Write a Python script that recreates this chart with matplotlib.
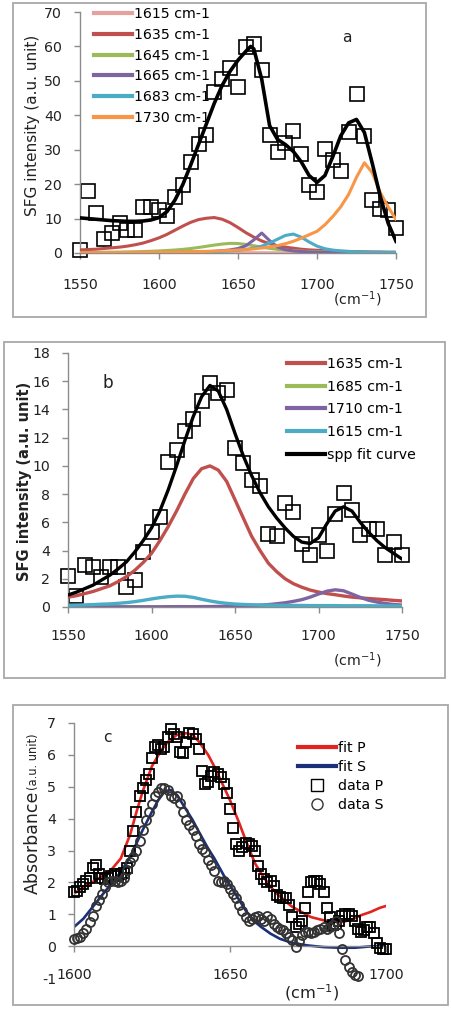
import matplotlib
matplotlib.use('Agg')
import matplotlib.pyplot as plt
from matplotlib.lines import Line2D
from matplotlib.patches import Rectangle

plt.rcParams['font.family'] = ['DejaVu Sans']
plt.rcParams['mathtext.fontset'] = 'dejavusans'
plt.rcParams['axes.unicode_minus'] = False

# ---------------- Panel a data ----------------
wn_a = list(range(1550, 1751, 5))
sfg_a = [0.8, 18.0, 11.6, 4.1, 5.9, 8.6, 6.8, 6.8, 13.3, 13.4,
         12.5, 10.7, 16.3, 19.8, 26.3, 31.6, 34.2, 46.7, 50.6, 53.6,
         48.2, 59.8, 60.6, 53.2, 34.2, 29.2, 31.9, 35.3, 28.8, 19.8,
         17.7, 30.2, 27.1, 23.8, 35.1, 46.3, 34.1, 15.3, 12.7, 12.6,
         7.2]
fit_a_x = [1550, 1555, 1560, 1565, 1570, 1575, 1580, 1585, 1590, 1595,
           1600, 1605, 1610, 1615, 1620, 1625, 1630, 1635, 1640, 1645,
           1650, 1655, 1658, 1660, 1665, 1670, 1675, 1680, 1685, 1690,
           1695, 1700, 1705, 1710, 1715, 1720, 1725, 1730, 1735, 1740,
           1745, 1750]
fit_a = [10.2, 10.0, 9.8, 9.6, 9.4, 9.3, 9.2, 9.2, 9.3, 9.6,
         10.3, 12.0, 15.3, 19.8, 25.5, 31.5, 37.5, 43.5, 48.7, 52.8,
         56.0, 58.6, 60.0, 59.3, 50.5, 37.0, 33.0, 31.5, 29.5, 26.5,
         22.5, 20.5, 22.5, 28.0, 34.0, 37.8, 38.8, 35.0, 26.0, 16.5,
         8.7, 3.4]
comp_1615_a = [0.05, 0.06, 0.07, 0.08, 0.10, 0.12, 0.15, 0.18, 0.22, 0.28,
               0.34, 0.42, 0.48, 0.50, 0.46, 0.38, 0.30, 0.23, 0.18, 0.14,
               0.11, 0.09, 0.08, 0.07, 0.06, 0.05, 0.05, 0.05, 0.05, 0.05,
               0.05, 0.05, 0.05, 0.05, 0.05, 0.05, 0.05, 0.05, 0.05, 0.05,
               0.05]
comp_1635_a = [0.9, 1.0, 1.1, 1.3, 1.5, 1.7, 2.0, 2.4, 2.9, 3.6,
               4.4, 5.4, 6.6, 7.8, 8.9, 9.7, 10.1, 10.3, 9.8, 8.8,
               7.4, 5.9, 4.6, 3.5, 2.7, 2.1, 1.7, 1.4, 1.1, 0.9,
               0.8, 0.7, 0.6, 0.5, 0.45, 0.4, 0.35, 0.3, 0.3, 0.25,
               0.25]
comp_1645_a = [0.15, 0.17, 0.19, 0.21, 0.24, 0.27, 0.31, 0.36, 0.42, 0.50,
               0.60, 0.72, 0.87, 1.05, 1.30, 1.60, 1.95, 2.30, 2.60, 2.80,
               2.75, 2.50, 2.10, 1.70, 1.35, 1.05, 0.85, 0.68, 0.55, 0.45,
               0.38, 0.32, 0.28, 0.24, 0.21, 0.19, 0.17, 0.15, 0.14, 0.13,
               0.12]
comp_1665_a = [0.05, 0.05, 0.05, 0.06, 0.06, 0.07, 0.07, 0.08, 0.09, 0.10,
               0.11, 0.13, 0.15, 0.18, 0.22, 0.28, 0.36, 0.48, 0.65, 0.90,
               1.30, 2.10, 3.80, 5.80, 3.60, 1.70, 0.95, 0.60, 0.42, 0.32,
               0.25, 0.20, 0.17, 0.14, 0.12, 0.11, 0.10, 0.09, 0.08, 0.07,
               0.07]
comp_1683_a = [0.05, 0.05, 0.06, 0.06, 0.07, 0.07, 0.08, 0.09, 0.10, 0.11,
               0.12, 0.14, 0.16, 0.19, 0.22, 0.26, 0.32, 0.40, 0.50, 0.62,
               0.80, 1.05, 1.40, 2.00, 2.90, 4.00, 5.10, 5.50, 4.60, 3.20,
               2.00, 1.25, 0.85, 0.60, 0.45, 0.35, 0.28, 0.23, 0.20, 0.17,
               0.15]
comp_1730_a = [0.10, 0.10, 0.11, 0.12, 0.13, 0.14, 0.15, 0.17, 0.19, 0.21,
               0.23, 0.26, 0.29, 0.33, 0.37, 0.42, 0.48, 0.55, 0.63, 0.73,
               0.85, 1.00, 1.20, 1.45, 1.75, 2.15, 2.70, 3.40, 4.30, 5.30,
               6.30, 8.20, 10.6, 13.4, 17.0, 22.0, 26.2, 23.3, 17.6, 13.4,
               9.7]
labels_a = ['1615 cm-1', '1635 cm-1', '1645 cm-1', '1665 cm-1', '1683 cm-1', '1730 cm-1']
colors_a = ['#E6A09E', '#C0504D', '#9BBB59', '#8064A2', '#4BACC6', '#F79646']

# ---------------- Panel b data ----------------
wn_b = list(range(1550, 1751, 5))
sfg_b = [2.2, 0.8, 3.0, 2.8, 2.1, 2.8, 2.8, 1.4, 1.9, 3.9,
         5.3, 6.4, 10.3, 11.1, 12.5, 13.3, 14.6, 15.9, 15.2, 15.4,
         11.3, 10.2, 9.0, 8.6, 5.2, 5.0, 7.4, 6.7, 4.5, 3.7,
         5.1, 4.0, 6.6, 8.1, 6.9, 5.1, 5.5, 5.5, 3.7, 4.6,
         3.7]
fit_b = [0.85, 1.05, 1.3, 1.55, 1.9, 2.25, 2.7, 3.2, 3.9, 4.7,
         5.6, 6.8, 8.3, 10.0, 11.8, 13.5, 14.9, 15.7, 15.3, 14.0,
         12.3, 10.7, 9.3, 8.1, 7.1, 6.3, 5.6, 5.0, 4.6, 4.5,
         4.9, 5.9, 6.8, 7.1, 6.8, 6.0, 5.3, 4.7, 4.2, 3.8,
         3.4]
comp_1635_b = [0.7, 0.8, 0.95, 1.1, 1.3, 1.5, 1.8, 2.15, 2.6, 3.15,
               3.8, 4.7, 5.7, 6.8, 8.0, 9.1, 9.8, 10.0, 9.7, 8.9,
               7.6, 6.3, 5.0, 4.0, 3.1, 2.5, 2.0, 1.65, 1.4, 1.2,
               1.06, 0.95, 0.87, 0.78, 0.7, 0.65, 0.6, 0.56, 0.52, 0.47,
               0.43]
comp_1685_b = [0.01, 0.01, 0.01, 0.01, 0.01, 0.01, 0.01, 0.01, 0.01, 0.01,
               0.01, 0.01, 0.01, 0.01, 0.01, 0.02, 0.02, 0.02, 0.02, 0.03,
               0.03, 0.04, 0.04, 0.05, 0.05, 0.06, 0.06, 0.06, 0.05, 0.05,
               0.04, 0.04, 0.03, 0.03, 0.02, 0.02, 0.02, 0.02, 0.01, 0.01,
               0.01]
comp_1710_b = [0.01, 0.01, 0.01, 0.01, 0.01, 0.01, 0.01, 0.01, 0.01, 0.01,
               0.01, 0.01, 0.02, 0.02, 0.02, 0.02, 0.03, 0.03, 0.04, 0.05,
               0.06, 0.08, 0.10, 0.13, 0.17, 0.23, 0.30, 0.40, 0.52, 0.70,
               0.92, 1.12, 1.22, 1.15, 0.92, 0.68, 0.48, 0.35, 0.25, 0.18,
               0.14]
comp_1615_b = [0.12, 0.13, 0.15, 0.17, 0.20, 0.22, 0.26, 0.31, 0.38, 0.47,
               0.57, 0.66, 0.73, 0.77, 0.76, 0.68, 0.55, 0.43, 0.33, 0.26,
               0.21, 0.18, 0.16, 0.14, 0.13, 0.12, 0.12, 0.11, 0.11, 0.10,
               0.10, 0.10, 0.10, 0.09, 0.09, 0.09, 0.09, 0.08, 0.08, 0.08,
               0.08]
labels_b = ['1635 cm-1', '1685 cm-1', '1710 cm-1', '1615 cm-1', 'spp fit curve']
colors_b = ['#C0504D', '#9BBB59', '#8064A2', '#4BACC6', '#000000']

# ---------------- Panel c data ----------------
wn_p = list(range(1600, 1701))
data_p = [1.70, 1.72, 1.85, 1.95, 2.05, 2.15, 2.45, 2.55, 2.25, 2.15,
          2.10, 2.15, 2.20, 2.25, 2.20, 2.25, 2.30, 2.45, 3.00, 3.60,
          4.20, 4.70, 4.95, 5.20, 5.40, 5.90, 6.25, 6.30, 6.20, 6.25,
          6.55, 6.80, 6.65, 6.55, 6.10, 6.05, 6.40, 6.70, 6.65, 6.50,
          6.20, 5.50, 5.10, 5.15, 5.35, 5.45, 5.40, 5.30, 5.10, 4.80,
          4.30, 3.70, 3.20, 3.00, 3.10, 3.25, 3.20, 3.15, 3.00, 2.50,
          2.25, 2.10, 2.00, 2.05, 1.90, 1.60, 1.55, 1.50, 1.50, 1.30,
          0.90, 0.60, 0.70, 0.80, 1.20, 1.70, 2.00, 2.05, 2.05, 1.95,
          1.70, 1.20, 0.90, 0.65, 0.70, 0.80, 0.95, 1.00, 1.00, 0.95,
          0.80, 0.55, 0.45, 0.50, 0.60, 0.60, 0.40, 0.10, -0.05, -0.10,
          -0.10]
wn_s = list(range(1600, 1692))
data_s = [0.22, 0.25, 0.28, 0.40, 0.55, 0.75, 0.95, 1.25, 1.45, 1.65,
          1.85, 2.00, 2.05, 2.05, 2.00, 2.05, 2.15, 2.40, 2.65, 2.80,
          3.00, 3.30, 3.65, 3.95, 4.20, 4.45, 4.70, 4.85, 4.95, 4.95,
          4.90, 4.70, 4.65, 4.70, 4.50, 4.20, 3.95, 3.80, 3.65, 3.45,
          3.20, 3.05, 2.95, 2.70, 2.55, 2.35, 2.05, 2.00, 2.05, 1.95,
          1.80, 1.65, 1.50, 1.30, 1.10, 0.90, 0.80, 0.85, 0.90, 0.95,
          0.85, 0.80, 0.95, 0.85, 0.70, 0.60, 0.55, 0.50, 0.40, 0.30,
          0.20, -0.02, 0.15, 0.35, 0.45, 0.45, 0.40, 0.45, 0.50, 0.55,
          0.60, 0.55, 0.60, 0.65, 0.80, 0.40, -0.10, -0.45, -0.65, -0.80,
          -0.90, -0.95]
fitp_x = [1600, 1603, 1607, 1610, 1612, 1615, 1618, 1620, 1622, 1625,
          1628, 1630, 1633, 1636, 1638, 1640, 1643, 1645, 1648, 1650,
          1653, 1655, 1658, 1660, 1663, 1665, 1668, 1670, 1673, 1676,
          1680, 1683, 1686, 1689, 1692, 1695, 1698, 1700]
fitp_y = [1.65, 1.85, 2.07, 2.25, 2.40, 2.75, 3.50, 4.20, 4.85, 5.65,
          6.15, 6.40, 6.63, 6.68, 6.63, 6.42, 6.00, 5.63, 5.00, 4.58,
          3.85, 3.33, 2.60, 2.28, 1.86, 1.65, 1.39, 1.23, 1.07, 0.91,
          0.81, 0.76, 0.76, 0.83, 0.97, 1.07, 1.20, 1.26]
fits_x = [1600, 1603, 1606, 1609, 1612, 1615, 1618, 1620, 1622, 1625,
          1627, 1629, 1631, 1633, 1635, 1638, 1640, 1643, 1645, 1648,
          1650, 1653, 1655, 1658, 1660, 1663, 1666, 1670, 1675, 1680,
          1685, 1690, 1695, 1700]
fits_y = [0.60, 0.86, 1.23, 1.60, 1.96, 2.33, 2.80, 3.22, 3.64, 4.22,
          4.58, 4.85, 4.90, 4.74, 4.43, 3.96, 3.59, 3.06, 2.75, 2.22,
          1.91, 1.44, 1.12, 0.76, 0.60, 0.39, 0.23, 0.10, 0.02, -0.03,
          -0.05, -0.05, -0.01, 0.02]

# ---------------- Figure ----------------
W, H = 452, 1010
fig = plt.figure(figsize=(W / 100, H / 100), dpi=100)
SP = '#8c8c8c'
TXT = '#222222'
FS = 10.2


def add_ax(l, t, r, b):
    return fig.add_axes([l / W, 1 - b / H, (r - l) / W, (b - t) / H])


def ftext(x, y, s, **kw):
    kw.setdefault('color', TXT)
    return fig.text(x / W, 1 - y / H, s, **kw)


def frame(x0, y0, x1, y1):
    fig.add_artist(Rectangle((x0 / W, 1 - y1 / H), (x1 - x0) / W, (y1 - y0) / H,
                             transform=fig.transFigure, fill=False,
                             ec='#a8a8a8', lw=1.3))


def style(ax, xpad, ypad):
    for s in ['top', 'right']:
        ax.spines[s].set_visible(False)
    for s in ['left', 'bottom']:
        ax.spines[s].set_color(SP)
        ax.spines[s].set_linewidth(1.0)
    ax.tick_params(axis='both', direction='out', length=4, width=1, color=SP,
                   labelsize=FS, labelcolor=TXT)
    ax.tick_params(axis='x', pad=xpad)
    ax.tick_params(axis='y', pad=ypad)
    ax.patch.set_alpha(0)


frame(13, 3, 426, 317)
frame(4, 342, 445, 678)
frame(13, 705, 448, 1005)

# ----- panel a -----
axa = add_ax(80, 12, 396, 253)
axa.plot(wn_a, sfg_a, ls='none', marker='s', ms=9.5, mfc='none', mec='black',
         mew=1.2, clip_on=False, zorder=2)
comps_a = [comp_1615_a, comp_1635_a, comp_1645_a, comp_1665_a, comp_1683_a, comp_1730_a]
for vals, col in zip(comps_a, colors_a):
    axa.plot(wn_a, vals, color=col, lw=2.2, solid_capstyle='round', zorder=3)
axa.plot(fit_a_x, fit_a, color='black', lw=2.6, zorder=4)
axa.set_xlim(1550, 1750)
axa.set_ylim(0, 70)
axa.set_xticks([1550, 1600, 1650, 1700, 1750])
axa.set_yticks(range(0, 71, 10))
style(axa, 14, 9)
handles_a = [Line2D([], [], color=c, lw=3) for c in colors_a]
axa.legend(handles_a, labels_a, loc='upper left', bbox_to_anchor=(94 / W, 1 - 7 / H),
           bbox_transform=fig.transFigure, frameon=False, fontsize=FS,
           handlelength=2.7, handletextpad=0.1, labelspacing=0.48, borderpad=0,
           borderaxespad=0)
ftext(347, 37, 'a', fontsize=FS + 1, ha='center', va='center')
ftext(33, 125, 'SFG intensity (a.u. unit)', fontsize=11, rotation=90,
      ha='center', va='center')
ftext(357, 299, r'(cm$^{-1}$)', fontsize=FS, ha='center', va='center')

# ----- panel b -----
axb = add_ax(68, 353, 402, 607)
axb.plot(wn_b, sfg_b, ls='none', marker='s', ms=9.5, mfc='none', mec='black',
         mew=1.2, clip_on=False, zorder=2)
comps_b = [comp_1635_b, comp_1685_b, comp_1710_b, comp_1615_b]
for vals, col in zip(comps_b, colors_b[:4]):
    axb.plot(wn_b, vals, color=col, lw=2.4, zorder=3)
axb.plot(wn_b, fit_b, color='black', lw=2.4, zorder=4)
axb.set_xlim(1550, 1750)
axb.set_ylim(0, 18)
axb.set_xticks([1550, 1600, 1650, 1700, 1750])
axb.set_yticks(range(0, 19, 2))
style(axb, 12, 9)
handles_b = [Line2D([], [], color=c, lw=3) for c in colors_b]
axb.legend(handles_b, labels_b, loc='upper left', bbox_to_anchor=(287 / W, 1 - 357 / H),
           bbox_transform=fig.transFigure, frameon=False, fontsize=FS,
           handlelength=2.7, handletextpad=0.1, labelspacing=0.61, borderpad=0,
           borderaxespad=0)
ftext(108, 383, 'b', fontsize=FS + 2, ha='center', va='center')
ftext(25, 481, 'SFG intensity (a.u. unit)', fontsize=10.5, fontweight='bold',
      rotation=90, ha='center', va='center')
ftext(357, 660, r'(cm$^{-1}$)', fontsize=FS, ha='center', va='center')

# ----- panel c -----
axc = add_ax(74, 723, 386, 978)
axc.plot(fitp_x, fitp_y, color='#E3231E', lw=1.9, zorder=2)
axc.plot(fits_x, fits_y, color='#1B2F7A', lw=1.9, zorder=2)
axc.plot(wn_p, data_p, ls='none', marker='s', ms=6.5, mfc='none', mec='black',
         mew=1.3, clip_on=False, zorder=3)
axc.plot(wn_s, data_s, ls='none', marker='o', ms=6.5, mfc='none', mec='#333333',
         mew=1.3, clip_on=False, zorder=3)
axc.set_xlim(1600, 1700)
axc.set_ylim(-1, 7)
axc.set_xticks([1600, 1650, 1700])
axc.set_yticks(range(-1, 8))
style(axc, 12, 9)
axc.spines['bottom'].set_position(('data', 0))
axc.spines['left'].set_bounds(0, 7)
axc.yaxis.get_major_ticks()[0].tick1line.set_visible(False)
handles_c = [Line2D([], [], color='#E3231E', lw=3),
             Line2D([], [], color='#1B2F7A', lw=3),
             Line2D([], [], ls='none', marker='s', ms=8, mfc='none', mec='black', mew=1.0),
             Line2D([], [], ls='none', marker='o', ms=8, mfc='none', mec='#333333', mew=1.0)]
axc.legend(handles_c, ['fit P', 'fit S', 'data P', 'data S'], loc='upper left',
           bbox_to_anchor=(298 / W, 1 - 741 / H), bbox_transform=fig.transFigure,
           frameon=False, fontsize=FS, handlelength=2.7, handletextpad=0.1,
           labelspacing=0.36, borderpad=0, borderaxespad=0)
ftext(107, 737, 'c', fontsize=FS + 1, ha='center', va='center')
ftext(33, 842, 'Absorbance', fontsize=12.5, rotation=90, ha='center', va='center')
ftext(34, 762, '(a.u. unit)', fontsize=8.3, rotation=90, ha='center', va='center')
ftext(312, 993, r'(cm$^{-1}$)', fontsize=FS + 1.5, ha='center', va='center')

fig.savefig('out.png', dpi=100)
